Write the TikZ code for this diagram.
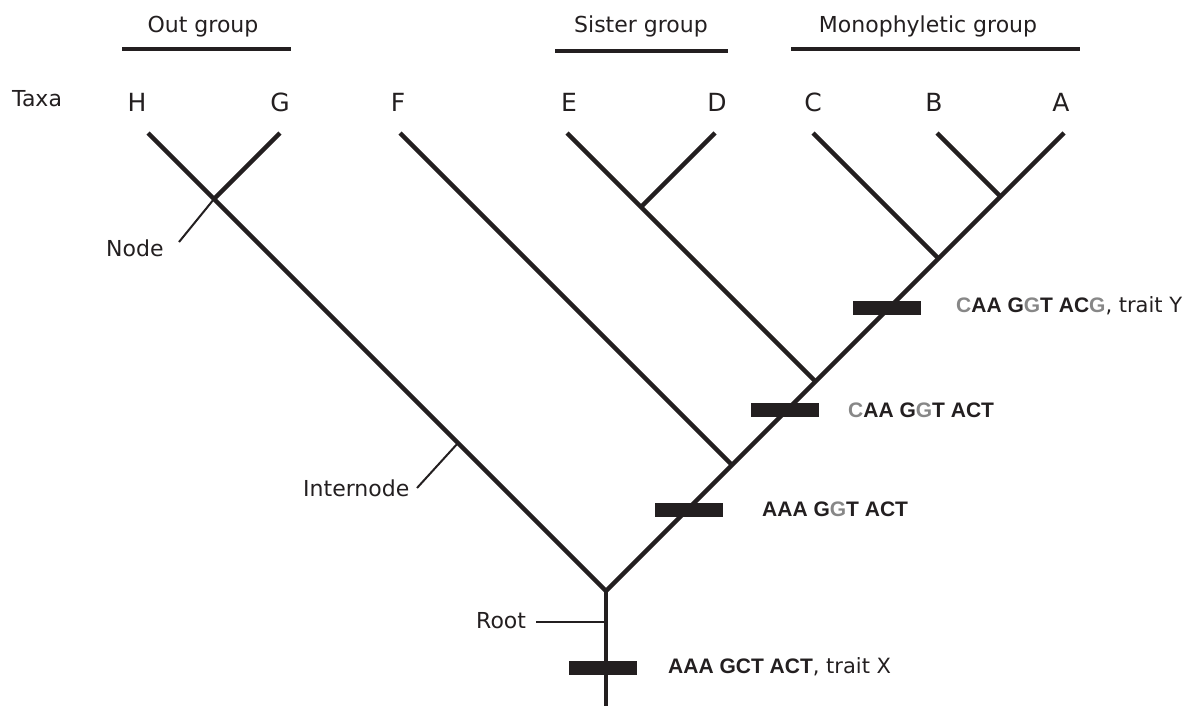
\documentclass[tikz,border=0pt]{standalone}
\usepackage{fontspec}
\setmainfont{DejaVu Sans}
\newfontfamily\seqfont{Liberation Sans}
\definecolor{ink}{HTML}{231F20}
\definecolor{seqgray}{HTML}{878787}
\newcommand\seqg[1]{\textcolor{seqgray}{#1}}
\begin{document}
\begin{tikzpicture}[x=1pt,y=-1pt,
  branch/.style={draw=ink, line width=4.5pt},
  pointer/.style={draw=ink, line width=2pt},
  groupline/.style={draw=ink, line width=3.3pt},
  lbl/.style={inner sep=0pt, anchor=base, text=ink, font=\fontsize{22}{26}\selectfont},
  sidelbl/.style={inner sep=0pt, anchor=base west, text=ink, font=\fontsize{22}{26}\selectfont},
  taxon/.style={inner sep=0pt, anchor=base, text=ink, font=\fontsize{25}{29}\selectfont},
  seq/.style={inner sep=0pt, anchor=base west, text=ink, font=\fontsize{21}{25}\selectfont},
  bar/.style={fill=ink, minimum width=68pt, minimum height=14pt, inner sep=0pt}]
\useasboundingbox (0,0) rectangle (1200,705);

% group labels
\node[lbl] (outg) at (203,32) {Out group};
\coordinate (outL) at (122,49); \coordinate (outR) at (291,49);
\draw[groupline] (outL) -- (outR);
\node[lbl] (sisg) at (641,32) {Sister group};
\coordinate (sisL) at (555,51); \coordinate (sisR) at (728,51);
\draw[groupline] (sisL) -- (sisR);
\node[lbl] (mong) at (928,32) {Monophyletic group};
\coordinate (monL) at (791,49); \coordinate (monR) at (1080,49);
\draw[groupline] (monL) -- (monR);

% taxa
\node[sidelbl] (taxa) at (12,106) {Taxa};
\node[taxon] (lH) at (137,111) {H};
\node[taxon] (lG) at (280,111) {G};
\node[taxon] (lF) at (398,111) {F};
\node[taxon] (lE) at (569,111) {E};
\node[taxon] (lD) at (717,111) {D};
\node[taxon] (lC) at (813,111) {C};
\node[taxon] (lB) at (934,111) {B};
\node[taxon] (lA) at (1061,111) {A};

% tips
\coordinate (tH) at (148,133);
\coordinate (tG) at (280,133);
\coordinate (tF) at (400,133);
\coordinate (tE) at (567,133);
\coordinate (tD) at (715,133);
\coordinate (tC) at (813,133);
\coordinate (tB) at (937,133);
\coordinate (tA) at (1064,133);
% internal nodes
\coordinate (base) at (606,706);
\coordinate (root) at (606,591);
\coordinate (jHG) at (214,199);
\coordinate (jF) at (732,465);
\coordinate (jE) at (815.5,381.5);
\coordinate (jDE) at (641,207);
\coordinate (jC) at (938.5,258.5);
\coordinate (jB) at (1000.5,196.5);

% branches
\draw[branch] (base) -- (root);
\draw[branch] (root) -- (tH);
\draw[branch] (jHG) -- (tG);
\draw[branch] (root) -- (tA);
\draw[branch] (jF) -- (tF);
\draw[branch] (jE) -- (tE);
\draw[branch] (jDE) -- (tD);
\draw[branch] (jC) -- (tC);
\draw[branch] (jB) -- (tB);

% pointer labels
\node[sidelbl] (nodelbl) at (106,256) {Node};
\coordinate (nodeptr) at (179,242);
\draw[pointer] (nodeptr) -- (jHG);
\node[sidelbl] (internodelbl) at (303,496) {Internode};
\coordinate (internodeptr) at (417,488);
\coordinate (internodept) at (458,443);
\draw[pointer] (internodeptr) -- (internodept);
\node[sidelbl] (rootlbl) at (476,628) {Root};
\coordinate (rootptr) at (536,622);
\coordinate (rootpt) at (606,622);
\draw[pointer] (rootptr) -- (rootpt);

% character bars
\node[bar] (barX) at (603,668) {};
\node[bar] (bar3) at (689,510) {};
\node[bar] (bar2) at (785,410) {};
\node[bar] (bar1) at (887,308) {};

% sequences
\node[seq] (seqX) at (668,673) {{\seqfont\bfseries AAA GCT ACT}, trait X};
\node[seq] (seq3) at (762,516) {{\seqfont\bfseries AAA G\seqg{G}T ACT}};
\node[seq] (seq2) at (848,417) {{\seqfont\bfseries \seqg{C}AA G\seqg{G}T ACT}};
\node[seq] (seq1) at (956,312) {{\seqfont\bfseries \seqg{C}AA G\seqg{G}T AC\seqg{G}}, trait Y};
\end{tikzpicture}
\end{document}
